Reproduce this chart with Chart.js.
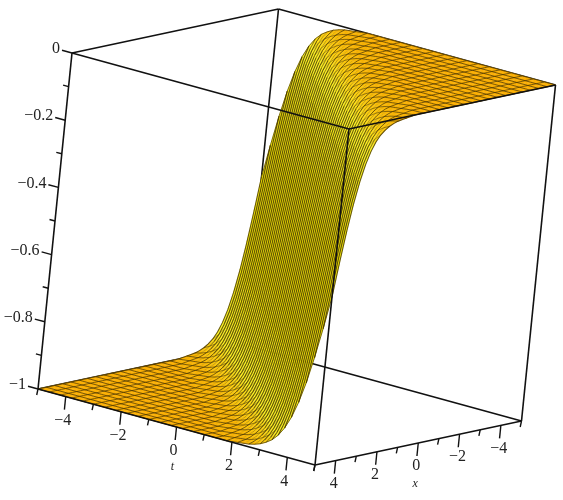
<!DOCTYPE html>
<html>
<head>
<meta charset="utf-8">
<title>surface</title>
<style>
  html, body { margin: 0; background: #fff; }
  canvas { display: block; filter: blur(0.4px); }
</style>
<script src="https://cdn.jsdelivr.net/npm/chart.js@4"></script>
</head>
<body>
<canvas id="surface" width="563" height="500"></canvas>
<script>
// grid of the surface
const tGrid = [-5,-4.8,-4.6,-4.4,-4.2,-4,-3.8,-3.6,-3.4,-3.2,-3,-2.8,-2.6,-2.4,-2.2,-2,-1.8,-1.6,-1.4,-1.2,-1,-0.8,-0.6,-0.4,-0.2,0,
  0.2,0.4,0.6,0.8,1,1.2,1.4,1.6,1.8,2,2.2,2.4,2.6,2.8,3,3.2,3.4,3.6,3.8,4,4.2,4.4,4.6,4.8,5];
const xGrid = [-5,-4.8,-4.6,-4.4,-4.2,-4,-3.8,-3.6,-3.4,-3.2,-3,-2.8,-2.6,-2.4,-2.2,-2,-1.8,-1.6,-1.4,-1.2,-1,-0.8,-0.6,-0.4,-0.2,0,
  0.2,0.4,0.6,0.8,1,1.2,1.4,1.6,1.8,2,2.2,2.4,2.6,2.8,3,3.2,3.4,3.6,3.8,4,4.2,4.4,4.6,4.8,5];
// height of the kink, one value for each grid offset (t index - x index), -50 .. 50
const zProfile = [
  -1,-1,-1,-1,-1,-1,-1,-1,-1,-1,-1,-1,-1,-1,-1,-1,-1,-1,-1,-1,-1,-1,-1,-1,-1,-1,-1,-1,-1,-1,-1,-1,-1,-1,-1,
  -0.998,-0.996,-0.994,-0.992,-0.988,-0.982,-0.973,-0.961,-0.943,-0.917,-0.881,-0.832,-0.769,-0.69,-0.599,
  -0.5,
  -0.401,-0.31,-0.231,-0.168,-0.119,-0.083,-0.057,-0.039,-0.027,-0.018,-0.012,-0.008,-0.006,-0.004,-0.002,
  0,0,0,0,0,0,0,0,0,0,0,0,0,0,0,0,0,0,0,0,0,0,0,0,0,0,0,0,0,0,0,0,0,0,0
];
const tTicks = [-5,-4,-3,-2,-1,0,1,2,3,4,5];
const xTicks = [-5,-4,-3,-2,-1,0,1,2,3,4,5];
const zTicks = [0,-0.1,-0.2,-0.3,-0.4,-0.5,-0.6,-0.7,-0.8,-0.9,-1];
const tLabels = [-4,-2,0,2,4];
const xLabels = [-4,-2,0,2,4];
const zLabels = [0,-0.2,-0.4,-0.6,-0.8,-1];

// parallel projection of the box onto the page
function project(t, x, z) {
  const a = (t + 5) / 10, b = (5 - x) / 10, c = z + 1;
  return {
    x: 38 + a * 277 + b * 206.5 + c * 34,
    y: 389 + a * 76 - b * 44 - c * 336
  };
}

function lineSet(points, color, width, fillColor) {
  return {
    data: points,
    showLine: true,
    pointRadius: 0,
    borderColor: color,
    borderWidth: width,
    backgroundColor: fillColor || 'transparent',
    fill: fillColor ? 'shape' : false,
    tension: 0,
    clip: false
  };
}

function edge(a, b, width) {
  return lineSet([project(a[0], a[1], a[2]), project(b[0], b[1], b[2])], '#111', width || 1.6);
}

function mix(c1, c2, f) {
  const ch = c1.map((v, n) => Math.round(v + (c2[n] - v) * f));
  return 'rgb(' + ch.join(',') + ')';
}

function cellColor(slope) {
  const flat = [250, 174, 0], bright = [255, 252, 40], wall = [255, 244, 0];
  if (slope < 0.14) return mix(flat, bright, slope / 0.14);
  return mix(bright, wall, (slope - 0.14) / 0.36);
}

const height = (i, j) => zProfile[i - j + tGrid.length - 1];
const gridPoint = (i, j) => project(tGrid[i], xGrid[j], height(i, j));
const step = (i, j) => Math.abs(height(i + 1, j) - height(i, j)) / 0.2;
const last = tGrid.length - 1;
const brown = a => 'rgba(65,48,0,' + a.toFixed(2) + ')';

// far to near, reversed at the end since Chart.js paints the last dataset first
const layers = [];

// back of the box
layers.push(edge([-5, 5, 0], [-5, -5, 0]));
layers.push(edge([-5, -5, 0], [5, -5, 0]));
layers.push(edge([-5, -5, 0], [-5, -5, -1]));
layers.push(edge([-5, -5, -1], [-5, 5, -1]));
layers.push(edge([-5, -5, -1], [5, -5, -1]));

for (let i = 0; i < last; i++) {
  for (let j = 0; j < last; j++) {
    const pts = [[i, j], [i + 1, j], [i + 1, j + 1], [i, j + 1], [i, j]].map(c => gridPoint(c[0], c[1]));
    const color = cellColor(step(i, j));
    layers.push(lineSet(pts, color, 0.5, color));
  }
}

// mesh: on the wall the lines of constant t carry the stripes, on the flat
// parts only every second line shows so the diamonds read like the original
xGrid.forEach((x, j) => {
  const set = lineSet(tGrid.map((t, i) => gridPoint(i, j)), brown(0.8), 0.9);
  if (j > 0 && j < last) {
    set.segment = {
      borderColor(ctx) {
        const slope = step(ctx.p0DataIndex, j);
        if (j % 2) return brown(Math.min(0.05, slope));
        return brown(Math.max(0.05, 0.8 - slope * 4));
      }
    };
  }
  layers.push(set);
});
tGrid.forEach((t, i) => {
  const set = lineSet(xGrid.map((x, j) => gridPoint(i, j)), brown(0.8), 1.1);
  if (i > 0 && i < last) {
    set.segment = {
      borderColor(ctx) {
        const slope = step(i, ctx.p0DataIndex);
        return brown(i % 2 ? Math.min(0.8, slope * 6) : 0.8);
      },
      borderWidth(ctx) {
        return Math.min(1.25, 0.85 + step(i, ctx.p0DataIndex) * 1.8);
      }
    };
  }
  layers.push(set);
});

// front of the box
layers.push(edge([-5, 5, 0], [5, 5, 0]));
layers.push(edge([5, 5, 0], [5, -5, 0]));
layers.push(edge([-5, 5, 0], [-5, 5, -1]));
layers.push(edge([5, 5, 0], [5, 5, -1]));
layers.push(edge([5, -5, 0], [5, -5, -1]));
layers.push(edge([-5, 5, -1], [5, 5, -1]));
layers.push(edge([5, 5, -1], [5, -5, -1]));

// ticks: even values are long, odd ones short
tTicks.forEach(t => {
  const from = project(t, 5, -1), len = t % 2 === 0 ? 13 : 6;
  layers.push(lineSet([from, { x: from.x - 1.3, y: from.y + len }], '#111', 1.4));
});
xTicks.forEach(x => {
  const from = project(5, x, -1), len = x % 2 === 0 ? 13 : 6;
  layers.push(lineSet([from, { x: from.x - 1.3, y: from.y + len }], '#111', 1.4));
});
zTicks.forEach((z, n) => {
  const from = project(-5, 5, z), len = n % 2 === 0 ? 10 : 5.5;
  layers.push(lineSet([from, { x: from.x - len, y: from.y - len * 0.27 }], '#111', 1.4));
});

const axisText = {
  id: 'axisText',
  afterDraw(chart) {
    const { ctx, scales } = chart;
    const put = (text, p, dx, dy, align, font) => {
      ctx.font = font;
      ctx.textAlign = align;
      ctx.textBaseline = 'middle';
      ctx.fillStyle = '#222';
      ctx.fillText(text, scales.x.getPixelForValue(p.x) + dx, scales.y.getPixelForValue(p.y) + dy);
    };
    const num = v => String(v).replace('-', '\u2212');
    const tickFont = '16px "Liberation Serif"';
    tLabels.forEach(t => put(num(t), project(t, 5, -1), -3, 24, 'center', tickFont));
    xLabels.forEach(x => put(num(x), project(5, x, -1), -2, 23, 'center', tickFont));
    zLabels.forEach(z => put(num(z), project(-5, 5, z), -12, -4, 'right', tickFont));
    put('t', project(0, 5, -1), -4, 40, 'center', 'italic 12px "Liberation Serif"');
    put('x', project(5, 0, -1), -3, 41, 'center', 'italic 12px "Liberation Serif"');
  }
};

new Chart(document.getElementById('surface').getContext('2d'), {
  type: 'scatter',
  data: { datasets: layers.reverse() },
  options: {
    responsive: false,
    animation: false,
    events: [],
    layout: { padding: 0 },
    plugins: { legend: { display: false }, tooltip: { enabled: false } },
    scales: {
      x: { type: 'linear', min: 0, max: 563, display: false },
      y: { type: 'linear', min: 0, max: 500, reverse: true, display: false }
    }
  },
  plugins: [axisText]
});
</script>
</body>
</html>
